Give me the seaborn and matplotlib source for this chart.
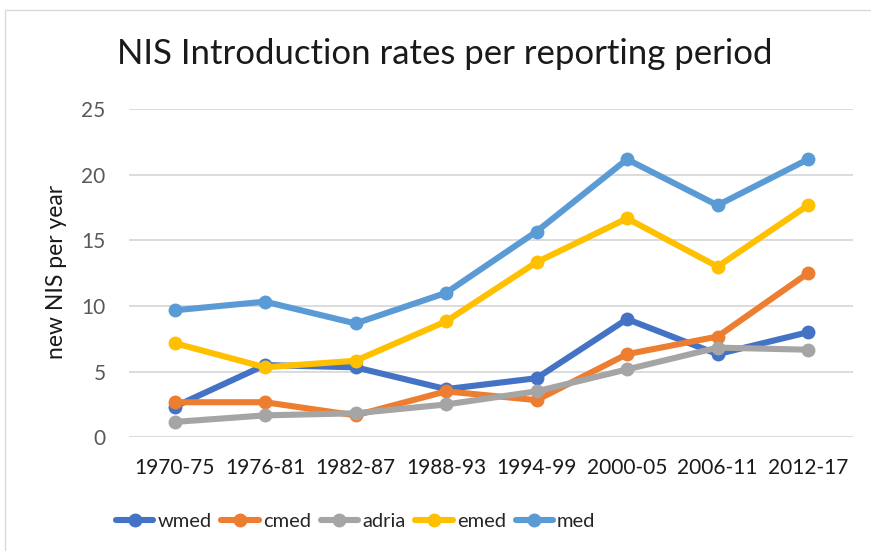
import matplotlib
matplotlib.use("Agg")
import matplotlib.pyplot as plt
import matplotlib.patches as mpatches
import seaborn as sns
import pandas as pd

periods = ["1970-75", "1976-81", "1982-87", "1988-93", "1994-99", "2000-05", "2006-11", "2012-17"]
wmed = [2.33, 5.50, 5.33, 3.67, 4.50, 9.00, 6.33, 8.00]
cmed = [2.67, 2.67, 1.67, 3.50, 2.83, 6.33, 7.67, 12.50]
adria = [1.17, 1.67, 1.83, 2.50, 3.50, 5.17, 6.83, 6.67]
emed = [7.17, 5.33, 5.83, 8.83, 13.33, 16.67, 13.00, 17.67]
med = [9.67, 10.33, 8.67, 11.00, 15.67, 21.17, 17.67, 21.17]

regions = ["wmed", "cmed", "adria", "emed", "med"]
colors = ["#4472C4", "#ED7D31", "#A5A5A5", "#FFC000", "#5B9BD5"]

rows = []
for name, vals in zip(regions, [wmed, cmed, adria, emed, med]):
    for i, (p, v) in enumerate(zip(periods, vals)):
        rows.append({"idx": i, "period": p, "region": name, "rate": v})
df = pd.DataFrame(rows)

sns.set_theme(style="white")
plt.rcParams["font.family"] = ["Lato", "DejaVu Sans"]

W, H = 871, 551
fig = plt.figure(figsize=(W / 100, H / 100), dpi=100)

# chart frame
fig.patches.append(mpatches.Rectangle((5 / W, -0.1), 1.2, 1 - 10 / H + 0.1,
                                      transform=fig.transFigure, fill=False,
                                      edgecolor="#D9D9D9", linewidth=1.0))

left, right = 129.3 / W, 853.3 / W
bottom, top = 1 - 437.3 / H, 1 - 109 / H
ax = fig.add_axes([left, bottom, right - left, top - bottom])

sns.lineplot(data=df, x="idx", y="rate", hue="region", hue_order=regions,
             palette=colors, marker="o", markersize=10, markeredgewidth=0,
             linewidth=4.4, ax=ax, legend=False, sort=False)

ax.set_xlim(-0.5, len(periods) - 0.5)
ax.set_ylim(0, 25)
ax.set_yticks([0, 5, 10, 15, 20, 25])
ax.set_xticks(range(len(periods)))
ax.set_xticklabels(periods)
ax.yaxis.grid(True, color="#D9D9D9", linewidth=1.3)
ax.set_axisbelow(True)
for s in ax.spines.values():
    s.set_visible(False)
ax.tick_params(axis="y", colors="#595959", labelsize=15, length=0, pad=17)
ax.tick_params(axis="x", colors="#1a1a1a", labelsize=15, length=0, pad=15)
ax.set_xlabel("")
ax.set_ylabel("new NIS per year", fontsize=16.5, color="#1a1a1a")
ax.yaxis.set_label_coords(-(129.3 - 67) / (853.3 - 129.3), (437.3 - 272) / (437.3 - 109))

fig.text(445 / W, 1 - 54 / H, "NIS Introduction rates per reporting period",
         ha="center", va="center", fontsize=25, color="#1a1a1a")

handles = [plt.Line2D([], [], color=c, linewidth=4.4, marker="o", markersize=10,
                      markeredgewidth=0) for c in colors]
fig.legend(handles, regions, loc="center left", bbox_to_anchor=(116 / W, 1 - 521 / H),
           ncol=5, frameon=False, fontsize=14.5, handlelength=1.85,
           handletextpad=0.2, columnspacing=0.5, borderaxespad=0, borderpad=0)

fig.savefig("out.png", dpi=100)
